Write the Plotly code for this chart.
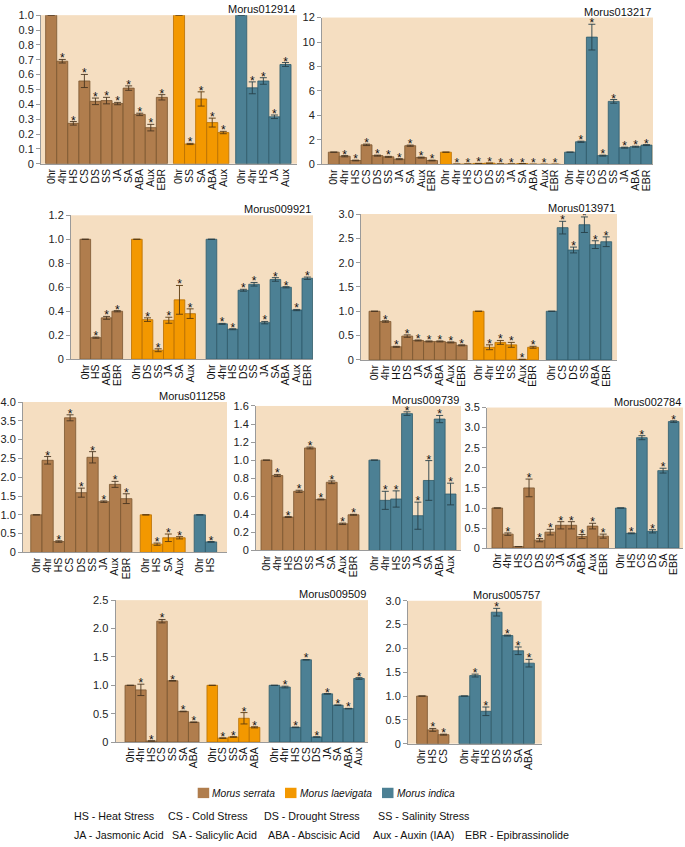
import plotly.graph_objects as go

W, H = 685, 847
FONT = "Liberation Sans, Arial, sans-serif"

SPECIES = ["Morus serrata", "Morus laevigata", "Morus indica"]
FILL = ["#B07D4D", "#F39800", "#4C8094"]
EDGE = ["#7A5630", "#B86F00", "#2E5A6B"]
ERRC = ["#4A3520", "#5A3A10", "#263F48"]
BG = "#F5DEC1"
CONTROL = "0hr"
NOT_SIGNIFICANT = [("Morus002784", "Morus serrata", "HS")]

# ---------------- Panel 1 ----------------
P1_TITLE = "Morus012914"
P1_YTICKS = ["0", "0.1", "0.2", "0.3", "0.4", "0.5", "0.6", "0.7", "0.8", "0.9", "1.0"]
P1_YSTEP = 0.1
P1_SER_LABELS = ["0hr", "4hr", "HS", "CS", "DS", "SS", "JA", "SA", "ABA", "Aux", "EBR"]
P1_SER_VALUES = [1.0, 0.69, 0.272, 0.557, 0.42, 0.425, 0.405, 0.509, 0.332, 0.243, 0.447]
P1_SER_ERRORS = [0, 0.012, 0.012, 0.044, 0.022, 0.022, 0.008, 0.015, 0.008, 0.022, 0.018]
P1_LAE_LABELS = ["0hr", "SS", "SA", "ABA", "Aux"]
P1_LAE_VALUES = [1.0, 0.133, 0.436, 0.277, 0.21]
P1_LAE_ERRORS = [0, 0.004, 0.048, 0.03, 0.008]
P1_IND_LABELS = ["0hr", "4hr", "HS", "JA", "Aux"]
P1_IND_VALUES = [1.0, 0.511, 0.557, 0.316, 0.668]
P1_IND_ERRORS = [0, 0.04, 0.022, 0.012, 0.013]

# ---------------- Panel 2 ----------------
P2_TITLE = "Morus013217"
P2_YTICKS = ["0", "2", "4", "6", "8", "10", "12"]
P2_YSTEP = 2
P2_SER_LABELS = ["0hr", "4hr", "HS", "CS", "DS", "SS", "JA", "SA", "Aux", "EBR"]
P2_SER_VALUES = [1.0, 0.67, 0.32, 1.6, 0.72, 0.62, 0.43, 1.53, 0.56, 0.32]
P2_SER_ERRORS = [0, 0.05, 0.03, 0.06, 0.04, 0.04, 0.04, 0.05, 0.04, 0.03]
P2_LAE_LABELS = ["0hr", "4hr", "HS", "CS", "DS", "SS", "JA", "SA", "ABA", "Aux", "EBR"]
P2_LAE_VALUES = [1.0, 0.02, 0.03, 0.08, 0.10, 0.03, 0.03, 0.07, 0.01, 0.01, 0.01]
P2_LAE_ERRORS = [0, 0.005, 0.005, 0.005, 0.005, 0.005, 0.005, 0.005, 0.003, 0.003, 0.003]
P2_IND_LABELS = ["0hr", "4hr", "CS", "DS", "SS", "JA", "ABA", "EBR"]
P2_IND_VALUES = [1.0, 1.85, 10.4, 0.72, 5.15, 1.37, 1.45, 1.58]
P2_IND_ERRORS = [0, 0.05, 1.05, 0.04, 0.15, 0.04, 0.04, 0.04]

# ---------------- Panel 3 ----------------
P3_TITLE = "Morus009921"
P3_YTICKS = ["0", "0.2", "0.4", "0.6", "0.8", "1.0", "1.2"]
P3_YSTEP = 0.2
P3_SER_LABELS = ["0hr", "HS", "ABA", "EBR"]
P3_SER_VALUES = [1.0, 0.18, 0.345, 0.40]
P3_SER_ERRORS = [0, 0.005, 0.012, 0.005]
P3_LAE_LABELS = ["0hr", "DS", "SS", "JA", "SA", "Aux"]
P3_LAE_VALUES = [1.0, 0.33, 0.075, 0.325, 0.495, 0.38]
P3_LAE_ERRORS = [0, 0.015, 0.012, 0.025, 0.12, 0.04]
P3_IND_LABELS = ["0hr", "4hr", "HS", "DS", "SS", "JA", "SA", "ABA", "Aux", "EBR"]
P3_IND_VALUES = [1.0, 0.295, 0.25, 0.575, 0.625, 0.305, 0.665, 0.60, 0.41, 0.675]
P3_IND_ERRORS = [0, 0.004, 0.004, 0.008, 0.015, 0.01, 0.015, 0.005, 0.005, 0.01]

# ---------------- Panel 4 ----------------
P4_TITLE = "Morus013971"
P4_YTICKS = ["0", "0.5", "1.0", "1.5", "2.0", "2.5", "3.0"]
P4_YSTEP = 0.5
P4_SER_LABELS = ["0hr", "4hr", "HS", "DS", "JA", "SA", "ABA", "Aux", "EBR"]
P4_SER_VALUES = [1.0, 0.79, 0.27, 0.49, 0.40, 0.38, 0.38, 0.36, 0.30]
P4_SER_ERRORS = [0, 0.015, 0.01, 0.025, 0.01, 0.01, 0.01, 0.01, 0.01]
P4_LAE_LABELS = ["0hr", "4hr", "HS", "SS", "Aux", "EBR"]
P4_LAE_VALUES = [1.0, 0.26, 0.36, 0.31, 0.01, 0.26]
P4_LAE_ERRORS = [0, 0.05, 0.04, 0.05, 0.003, 0.02]
P4_IND_LABELS = ["0hr", "CS", "DS", "SS", "ABA", "EBR"]
P4_IND_VALUES = [1.0, 2.72, 2.26, 2.78, 2.37, 2.43]
P4_IND_ERRORS = [0, 0.13, 0.06, 0.16, 0.08, 0.1]

# ---------------- Panel 5 ----------------
P5_TITLE = "Morus011258"
P5_YTICKS = ["0", "0.5", "1.0", "1.5", "2.0", "2.5", "3.0", "3.5", "4.0"]
P5_YSTEP = 0.5
P5_SER_LABELS = ["0hr", "4hr", "HS", "CS", "DS", "SS", "JA", "Aux", "EBR"]
P5_SER_VALUES = [1.0, 2.45, 0.29, 3.58, 1.59, 2.53, 1.35, 1.81, 1.43]
P5_SER_ERRORS = [0, 0.1, 0.02, 0.08, 0.12, 0.15, 0.02, 0.08, 0.13]
P5_LAE_LABELS = ["0hr", "HS", "SA", "Aux"]
P5_LAE_VALUES = [1.0, 0.22, 0.39, 0.39]
P5_LAE_ERRORS = [0, 0.03, 0.1, 0.03]
P5_IND_LABELS = ["0hr", "HS"]
P5_IND_VALUES = [1.0, 0.28]
P5_IND_ERRORS = [0, 0.01]

# ---------------- Panel 6 ----------------
P6_TITLE = "Morus009739"
P6_YTICKS = ["0", "0.2", "0.4", "0.6", "0.8", "1.0", "1.2", "1.4", "1.6"]
P6_YSTEP = 0.2
P6_SER_LABELS = ["0hr", "4hr", "HS", "DS", "SS", "JA", "SA", "Aux", "EBR"]
P6_SER_VALUES = [1.0, 0.83, 0.37, 0.655, 1.135, 0.565, 0.755, 0.295, 0.395]
P6_SER_ERRORS = [0, 0.012, 0.005, 0.012, 0.01, 0.005, 0.015, 0.008, 0.005]
P6_IND_LABELS = ["0hr", "4hr", "HS", "SS", "JA", "SA", "ABA", "Aux"]
P6_IND_VALUES = [1.0, 0.555, 0.57, 1.515, 0.385, 0.775, 1.455, 0.625]
P6_IND_ERRORS = [0, 0.1, 0.09, 0.02, 0.15, 0.22, 0.04, 0.12]

# ---------------- Panel 7 ----------------
P7_TITLE = "Morus002784"
P7_YTICKS = ["0", "0.5", "1.0", "1.5", "2.0", "2.5", "3.0", "3.5"]
P7_YSTEP = 0.5
P7_SER_LABELS = ["0hr", "4hr", "HS", "CS", "DS", "SS", "JA", "SA", "ABA", "Aux", "EBR"]
P7_SER_VALUES = [1.0, 0.35, 0.04, 1.50, 0.20, 0.40, 0.57, 0.57, 0.29, 0.55, 0.30]
P7_SER_ERRORS = [0, 0.03, 0, 0.22, 0.04, 0.07, 0.09, 0.09, 0.05, 0.07, 0.05]
P7_IND_LABELS = ["0hr", "HS", "CS", "DS", "SA", "EBR"]
P7_IND_VALUES = [1.0, 0.37, 2.75, 0.42, 1.93, 3.15]
P7_IND_ERRORS = [0, 0.01, 0.05, 0.04, 0.06, 0.02]

# ---------------- Panel 8 ----------------
P8_TITLE = "Morus009509"
P8_YTICKS = ["0", "0.5", "1.0", "1.5", "2.0", "2.5"]
P8_YSTEP = 0.5
P8_SER_LABELS = ["0hr", "4hr", "HS", "CS", "SS", "SA", "ABA"]
P8_SER_VALUES = [1.0, 0.92, 0.02, 2.13, 1.08, 0.54, 0.35]
P8_SER_ERRORS = [0, 0.1, 0, 0.03, 0.005, 0.005, 0.005]
P8_LAE_LABELS = ["0hr", "CS", "SS", "SA", "ABA"]
P8_LAE_VALUES = [1.0, 0.07, 0.09, 0.42, 0.26]
P8_LAE_ERRORS = [0, 0.005, 0.005, 0.1, 0.01]
P8_IND_LABELS = ["0hr", "4hr", "HS", "CS", "DS", "JA", "SA", "ABA", "Aux"]
P8_IND_VALUES = [1.0, 0.97, 0.26, 1.45, 0.09, 0.85, 0.65, 0.59, 1.12]
P8_IND_ERRORS = [0, 0.015, 0.005, 0.005, 0.003, 0.005, 0.005, 0.005, 0.015]

# ---------------- Panel 9 ----------------
P9_TITLE = "Morus005757"
P9_YTICKS = ["0", "0.5", "1.0", "1.5", "2.0", "2.5", "3.0"]
P9_YSTEP = 0.5
P9_SER_LABELS = ["0hr", "HS", "CS"]
P9_SER_VALUES = [1.0, 0.29, 0.19]
P9_SER_ERRORS = [0, 0.03, 0.01]
P9_IND_LABELS = ["0hr", "4hr", "HS", "DS", "SS", "SA", "ABA"]
P9_IND_VALUES = [1.0, 1.43, 0.68, 2.76, 2.27, 1.95, 1.69]
P9_IND_ERRORS = [0, 0.03, 0.09, 0.08, 0.01, 0.08, 0.08]

ABBREV_ROW1 = ["HS - Heat Stress", "CS - Cold Stress", "DS - Drought Stress", "SS - Salinity Stress"]
ABBREV_ROW2 = ["JA - Jasmonic Acid", "SA - Salicylic Acid", "ABA - Abscisic Acid",
               "Aux - Auxin (IAA)", "EBR - Epibrassinolide"]

PANELS = [
    (P1_TITLE, P1_YTICKS, P1_YSTEP, [(0, P1_SER_LABELS, P1_SER_VALUES, P1_SER_ERRORS),
                                     (1, P1_LAE_LABELS, P1_LAE_VALUES, P1_LAE_ERRORS),
                                     (2, P1_IND_LABELS, P1_IND_VALUES, P1_IND_ERRORS)]),
    (P2_TITLE, P2_YTICKS, P2_YSTEP, [(0, P2_SER_LABELS, P2_SER_VALUES, P2_SER_ERRORS),
                                     (1, P2_LAE_LABELS, P2_LAE_VALUES, P2_LAE_ERRORS),
                                     (2, P2_IND_LABELS, P2_IND_VALUES, P2_IND_ERRORS)]),
    (P3_TITLE, P3_YTICKS, P3_YSTEP, [(0, P3_SER_LABELS, P3_SER_VALUES, P3_SER_ERRORS),
                                     (1, P3_LAE_LABELS, P3_LAE_VALUES, P3_LAE_ERRORS),
                                     (2, P3_IND_LABELS, P3_IND_VALUES, P3_IND_ERRORS)]),
    (P4_TITLE, P4_YTICKS, P4_YSTEP, [(0, P4_SER_LABELS, P4_SER_VALUES, P4_SER_ERRORS),
                                     (1, P4_LAE_LABELS, P4_LAE_VALUES, P4_LAE_ERRORS),
                                     (2, P4_IND_LABELS, P4_IND_VALUES, P4_IND_ERRORS)]),
    (P5_TITLE, P5_YTICKS, P5_YSTEP, [(0, P5_SER_LABELS, P5_SER_VALUES, P5_SER_ERRORS),
                                     (1, P5_LAE_LABELS, P5_LAE_VALUES, P5_LAE_ERRORS),
                                     (2, P5_IND_LABELS, P5_IND_VALUES, P5_IND_ERRORS)]),
    (P6_TITLE, P6_YTICKS, P6_YSTEP, [(0, P6_SER_LABELS, P6_SER_VALUES, P6_SER_ERRORS),
                                     (2, P6_IND_LABELS, P6_IND_VALUES, P6_IND_ERRORS)]),
    (P7_TITLE, P7_YTICKS, P7_YSTEP, [(0, P7_SER_LABELS, P7_SER_VALUES, P7_SER_ERRORS),
                                     (2, P7_IND_LABELS, P7_IND_VALUES, P7_IND_ERRORS)]),
    (P8_TITLE, P8_YTICKS, P8_YSTEP, [(0, P8_SER_LABELS, P8_SER_VALUES, P8_SER_ERRORS),
                                     (1, P8_LAE_LABELS, P8_LAE_VALUES, P8_LAE_ERRORS),
                                     (2, P8_IND_LABELS, P8_IND_VALUES, P8_IND_ERRORS)]),
    (P9_TITLE, P9_YTICKS, P9_YSTEP, [(0, P9_SER_LABELS, P9_SER_VALUES, P9_SER_ERRORS),
                                     (2, P9_IND_LABELS, P9_IND_VALUES, P9_IND_ERRORS)]),
]

# layout geometry (pixels): left, right, top, bottom, left pad, group gaps, right pad (bar widths)
GEOM = [
    (41, 297, 9.3, 160, 0.42, [0.55, 0.62], 0.54),
    (322, 653, 11.7, 160.7, 0.58, [0.27, 0.37], 0.1),
    (71, 313, 212.3, 358.3, 0.84, [0.84, 1.0], 0.03),
    (361, 617, 211, 359, 0.74, [0.55, 0.71], 0.49),
    (23, 227, 401.7, 554.3, 0.69, [0.74, 0.8], 0.92),
    (256, 461, 405.7, 552.3, 0.46, [0.92], 0.46),
    (487, 683, 407.3, 550, 0.47, [0.66], 0.38),
    (115.5, 368, 602.7, 746.7, 0.9, [0.75, 0.88], 0.35),
    (408, 541.7, 603.3, 748.3, 0.8, [0.93], 0.68),
]

fig = go.Figure()
annotations = []
shapes = []
layout_axes = {}

for pi, ((title, yticks, ystep, groups), (L, R, T, B, lp, gaps, rp)) in enumerate(zip(PANELS, GEOM)):
    n = pi + 1
    xa = "x" if n == 1 else f"x{n}"
    ya = "y" if n == 1 else f"y{n}"
    tickvals, ticktext = [], []
    start = 0.0
    for gi, (si, labels, values, errors) in enumerate(groups):
        if gi > 0:
            start += gaps[gi - 1]
        xs = [start + i for i in range(len(labels))]
        start = xs[-1] + 1
        tickvals += xs
        ticktext += labels
        fig.add_trace(go.Bar(
            x=xs, y=values, width=1, xaxis=xa, yaxis=ya,
            marker=dict(color=FILL[si], line=dict(color=EDGE[si], width=0.8)),
            error_y=dict(type="data", array=[e if e > 0 else None for e in errors],
                         visible=True, color=ERRC[si], thickness=0.9, width=3.5),
            name=SPECIES[si], showlegend=False, hoverinfo="skip"))
        sx, sy = [], []
        for x, lab, v, e in zip(xs, labels, values, errors):
            if lab == CONTROL or (title, SPECIES[si], lab) in NOT_SIGNIFICANT:
                continue
            sx.append(x)
            sy.append(v + e)
        fig.add_trace(go.Scatter(
            x=sx, y=sy, mode="text", text=["*"] * len(sx), textposition="middle center",
            textfont=dict(size=12, color="#111", family=FONT),
            xaxis=xa, yaxis=ya, showlegend=False, hoverinfo="skip"))
    last = start - 1
    ymax = ystep * (len(yticks) - 1)
    layout_axes["xaxis" if n == 1 else f"xaxis{n}"] = dict(
        domain=[L / W, R / W], anchor=ya, range=[-0.5 - lp, last + 0.5 + rp],
        tickvals=tickvals, ticktext=ticktext, tickangle=-90,
        tickfont=dict(size=10.5, color="#111", family=FONT),
        showline=True, linecolor="#9a9a9a", linewidth=1, ticks="",
        showgrid=False, zeroline=False, fixedrange=True)
    layout_axes["yaxis" if n == 1 else f"yaxis{n}"] = dict(
        domain=[1 - B / H, 1 - T / H], anchor=xa, range=[0, ymax],
        tickvals=[i * ystep for i in range(len(yticks))], ticktext=yticks,
        tickfont=dict(size=11, color="#222", family=FONT),
        showline=True, linecolor="#9a9a9a", linewidth=1, ticks="outside",
        ticklen=4, tickcolor="#9a9a9a", showgrid=False, zeroline=False, fixedrange=True)
    annotations.append(dict(
        text=title, xref=f"{xa} domain", yref=f"{ya} domain", x=1, y=1,
        xanchor="right", yanchor="bottom", yshift=-2, showarrow=False,
        font=dict(size=11, color="#111", family=FONT)))

# species legend (drawn in paper space)
LEG_SQ_X = [197.7, 285, 382]
for si, sx in enumerate(LEG_SQ_X):
    shapes.append(dict(type="rect", xref="paper", yref="paper",
                       x0=sx / W, x1=(sx + 11.5) / W, y0=1 - 803.5 / H, y1=1 - 793 / H,
                       fillcolor=FILL[si], line=dict(width=0)))
    annotations.append(dict(text=f"<i>{SPECIES[si]}</i>", xref="paper", yref="paper",
                            x=(sx + 12.5) / W, y=1 - 798.5 / H, xanchor="left", yanchor="middle",
                            showarrow=False, font=dict(size=10.2, color="#111", family=FONT)))

ROW1_X = [72, 166, 262, 376]
ROW2_X = [72, 170, 266, 371, 463]
for txt, x in zip(ABBREV_ROW1, ROW1_X):
    annotations.append(dict(text=txt, xref="paper", yref="paper", x=x / W, y=1 - 821.5 / H,
                            xanchor="left", yanchor="middle", showarrow=False,
                            font=dict(size=10.7, color="#111", family=FONT)))
for txt, x in zip(ABBREV_ROW2, ROW2_X):
    annotations.append(dict(text=txt, xref="paper", yref="paper", x=x / W, y=1 - 840.5 / H,
                            xanchor="left", yanchor="middle", showarrow=False,
                            font=dict(size=10.7, color="#111", family=FONT)))

fig.update_layout(
    width=W, height=H, margin=dict(l=0, r=0, t=0, b=0),
    paper_bgcolor="white", plot_bgcolor=BG, barmode="overlay",
    showlegend=False, annotations=annotations, shapes=shapes,
    **layout_axes)

fig.write_html("out.html",
               config={"displayModeBar": False, "staticPlot": True},
               post_script="document.body.style.margin='0';document.body.style.padding='0';"
                           "document.documentElement.style.overflow='hidden';")
